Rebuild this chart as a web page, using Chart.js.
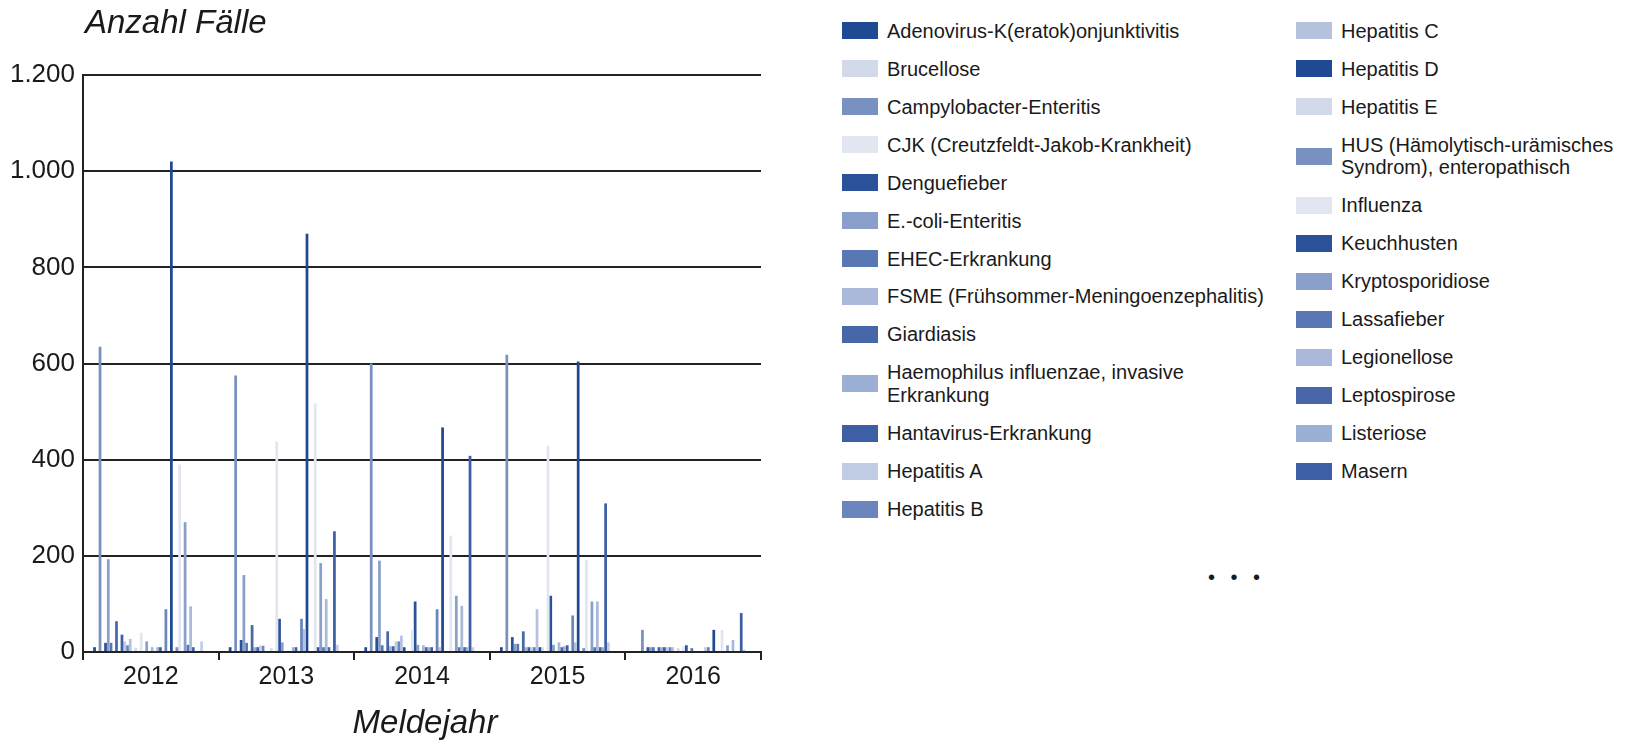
<!DOCTYPE html>
<html lang="de">
<head>
<meta charset="utf-8">
<title>Anzahl Fälle nach Meldejahr</title>
<script src="https://cdn.jsdelivr.net/npm/chart.js@4.4.1/dist/chart.umd.min.js"></script>
<style>
body{margin:0;background:#fff;font-family:"Liberation Sans",Arial,sans-serif;color:#1a1a1a;}
#wrap{position:relative;width:1629px;height:748px;overflow:hidden;}
#chartBox{position:absolute;left:0;top:0;width:780px;height:748px;}
.col{position:absolute;top:12px;}
.item{display:flex;align-items:center;padding:7.6px 0 7.9px 0;font-size:20px;line-height:22.5px;}
.swatch{flex:none;width:36px;height:17px;margin-right:9px;}
#more{position:absolute;left:1208px;top:566px;font-size:20px;word-spacing:10px;}
</style>
</head>
<body>
<div id="wrap">
  <div id="chartBox"><canvas id="casesChart"></canvas></div>
  <div class="col" id="legendCol1" style="left:842px;"></div>
  <div class="col" id="legendCol2" style="left:1296px;"></div>
  <div id="more">• • •</div>
</div>
<script>
// -----------------------------
// Data
// -----------------------------

const years = ["2012", "2013", "2014", "2015", "2016"];

const diseases = [
"Adenovirus-K(eratok)onjunktivitis",
"Brucellose",
"Campylobacter-Enteritis",
"CJK (Creutzfeldt-Jakob-Krankheit)",
"Denguefieber",
"E.-coli-Enteritis",
"EHEC-Erkrankung",
"FSME (Frühsommer-Meningoenzephalitis)",
"Giardiasis",
"Haemophilus influenzae, invasive Erkrankung",
"Hantavirus-Erkrankung",
"Hepatitis A",
"Hepatitis B",
"Hepatitis C",
"Hepatitis D",
"Hepatitis E",
"HUS (Hämolytisch-urämisches Syndrom), enteropathisch",
"Influenza",
"Keuchhusten",
"Kryptosporidiose",
"Lassafieber",
"Legionellose",
"Leptospirose",
"Listeriose",
"Masern",
"Meningokokken, invasive Erkrankung",
"MRSA, invasive Infektion",
"Mumps",
"Norovirus-Gastroenteritis",
"Ornithose",
"Paratyphus",
"Rotavirus-Gastroenteritis",
"Röteln",
"Salmonellose",
"Shigellose",
"Tuberkulose",
"Tularämie",
"Typhus abdominalis",
"Windpocken",
"Yersiniose",
"Zikavirus-Infektion",
"Zytomegalie"
];

// cases per year, one value per disease (same order as above)
const cases2012 = [10,0,635,0,19,193,19,0,64,0, 36,22,14,27,0,9,0,40,0,22, 0,10,0,10,10,0,89,0,1020,0, 10,390,0,270,15,95,10,0,0,22, 0,0];
const cases2013 = [10,0,575,0,25,160,19,0,56,10, 10,13,13,0,0,8,0,438,69,20, 0,0,0,10,10,0,69,48,870,0, 0,517,10,185,10,110,10,0,251,15, 0,0];
const cases2014 = [10,0,600,0,31,190,14,0,43,12, 12,22,22,34,10,0,0,46,105,15, 0,14,10,10,10,0,89,10,467,0, 0,242,0,117,10,96,10,10,408,10, 0,0];
const cases2015 = [10,0,618,0,31,17,17,0,43,10, 10,10,10,89,10,10,0,429,117,15, 0,20,10,12,14,0,76,20,604,0, 8,192,0,105,10,105,10,10,309,20, 0,0];
const cases2016 = [0,0,46,0,10,10,10,0,10,10, 10,10,10,10,0,8,0,12,14,0, 8,0,0,0,0,10,10,0,46,0, 0,46,0,14,0,25,0,0,81,5, 0,0];

const palette = ["#1f4a93","#d2d9e8","#7891c0","#e2e6f1","#2b5299","#8aa0cb","#5877b3",
                 "#aab9d9","#4767a9","#9cafd4","#3d5fa5","#c1cde4","#6a86bc","#b4c2de"];

const legendCount = 25;   // the rest is cut off with "..."
const yTitle = "Anzahl Fälle";
const xTitle = "Meldejahr";

const fontFamily = '"Liberation Sans", Arial, sans-serif';

// -----------------------------
// Datasets
// -----------------------------

const yearValues = [cases2012, cases2013, cases2014, cases2015, cases2016];

const datasets = diseases.map(function (name, i) {
    return {
        label: name,
        data: yearValues.map(row => row[i]),
        backgroundColor: palette[i % palette.length],
        borderWidth: 0,
        categoryPercentage: 0.85,
        barPercentage: 1.0
    };
});

function formatDE(v) {
    return String(v).replace(/\B(?=(\d{3})+(?!\d))/g, ".");
}

// axis titles sit outside the rotated / centered defaults
const axisTitles = {
    id: "axisTitles",
    afterDraw: function (chart) {
        const ctx = chart.ctx;
        const area = chart.chartArea;
        ctx.save();
        ctx.fillStyle = "#1a1a1a";
        ctx.font = "italic 33px " + fontFamily;
        ctx.textBaseline = "middle";
        ctx.textAlign = "left";
        ctx.fillText(yTitle, area.left + 2, 24);
        ctx.textAlign = "center";
        ctx.fillText(xTitle, (area.left + area.right) / 2 + 3, 724);
        ctx.restore();
    }
};

// -----------------------------
// Chart
// -----------------------------

new Chart(document.getElementById("casesChart"), {

type: "bar",

data: {
labels: years,
datasets: datasets
},

options: {
responsive: true,
maintainAspectRatio: false,
devicePixelRatio: 1,
animation: false,

layout: {
padding: {top: 75, right: 19, left: 0, bottom: 0}
},

plugins: {
legend: {display: false},
tooltip: {enabled: true}
},

scales: {
x: {
grid: {
display: true,
drawOnChartArea: false,
drawTicks: true,
tickLength: 8,
color: "#222",
lineWidth: 2,
offset: true
},
border: {display: true, color: "#222", width: 2},
ticks: {
color: "#1a1a1a",
padding: 2,
font: {family: fontFamily, size: 25}
},
afterFit: function (scale) {
scale.height = 96;
}
},
y: {
min: 0,
max: 1200,
grid: {
color: "#222",
lineWidth: 2,
drawTicks: false
},
border: {display: true, color: "#222", width: 2},
ticks: {
stepSize: 200,
color: "#1a1a1a",
padding: 8,
font: {family: fontFamily, size: 26},
callback: function (value) {
return formatDE(value);
}
},
afterFit: function (scale) {
scale.width = 83;
}
}
}
},

plugins: [axisTitles]

});

// -----------------------------
// Legend (two columns, first 25 entries)
// -----------------------------

const perColumn = 13;
for (let i = 0; i < legendCount; i++) {
    const item = document.createElement("div");
    item.className = "item";
    const sw = document.createElement("span");
    sw.className = "swatch";
    sw.style.background = palette[i % palette.length];
    const txt = document.createElement("span");
    txt.textContent = diseases[i];
    txt.style.width = (i < perColumn ? 392 : 282) + "px";
    item.appendChild(sw);
    item.appendChild(txt);
    document.getElementById(i < perColumn ? "legendCol1" : "legendCol2").appendChild(item);
}
</script>
</body>
</html>
